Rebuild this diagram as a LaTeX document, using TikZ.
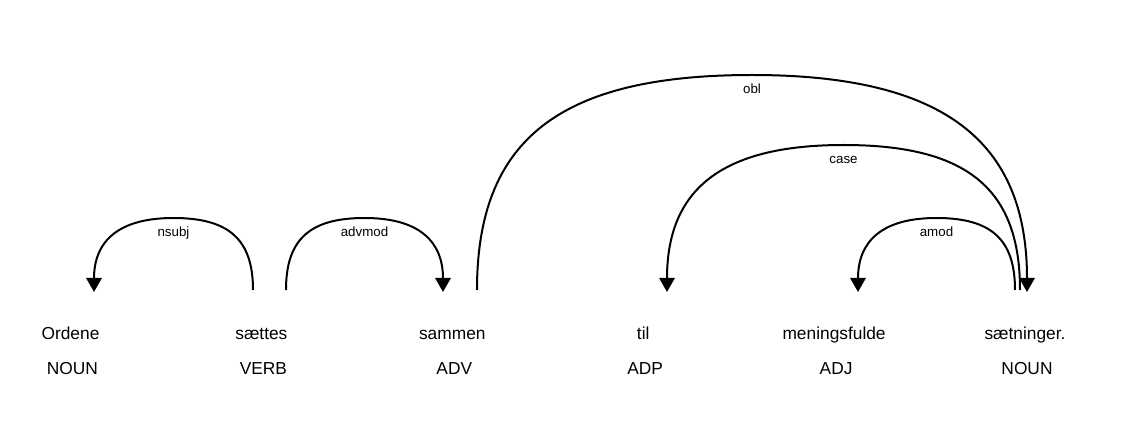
\documentclass[tikz,border=0pt]{standalone}
\usepackage{fontspec}
\setmainfont{Liberation Sans}
\usetikzlibrary{arrows.meta,calc}

\begin{document}
\begin{tikzpicture}[x=0.75pt, y=0.75pt, >={Triangle[length=10.5pt,width=11.5pt]},
word/.style={anchor=base, inner sep=0pt, font=\fontsize{13}{15}\selectfont},
tag/.style={anchor=base, inner sep=0pt, font=\fontsize{13}{15}\selectfont},
deplabel/.style={anchor=base, inner sep=0pt, font=\fontsize{10}{12}\selectfont},
deparc/.style={->, line width=1.5pt}]
\useasboundingbox (0,0) rectangle (1125,425);
% tokens and their tags
\foreach \x/\name/\w/\t in {72.5/ordene/Ordene/NOUN, 263.4/saettes/sættes/VERB, 454.3/sammen/sammen/ADV,
  645.2/til/til/ADP, 836.1/meningsfulde/meningsfulde/ADJ, 1027/saetninger/sætninger./NOUN}{
  \node[word] (\name) at ({\x-2},85) {\w};
  \node[tag] (\name-tag) at (\x,50) {\t};
}
% dependency arcs
\foreach \sx/\ex/\h/\lab in {253/94/72/nsubj, 286/443/72/advmod, 477/1027/215/obl,
  1020/667/145/case, 1015/858/72/amod}{
  \pgfmathsetmacro\hw{(\ex-\sx)/2}
  \pgfmathsetmacro\cx{0.7*\hw}
  \pgfmathsetmacro\cy{0.7*\h}
  \coordinate (\lab-from) at (\sx,135);
  \coordinate (\lab-top) at ({\sx+\hw},{135+\h});
  \coordinate (\lab-to) at (\ex,133);
  \draw[deparc] (\lab-from) .. controls +(0,\cy) and +(-\cx,0) .. (\lab-top)
    .. controls +(\cx,0) and +(0,\cy) .. (\lab-to);
  \node[deplabel] (\lab) at ($(\lab-top)+(0,-19)$) {\lab};
}
\end{tikzpicture}
\end{document}
